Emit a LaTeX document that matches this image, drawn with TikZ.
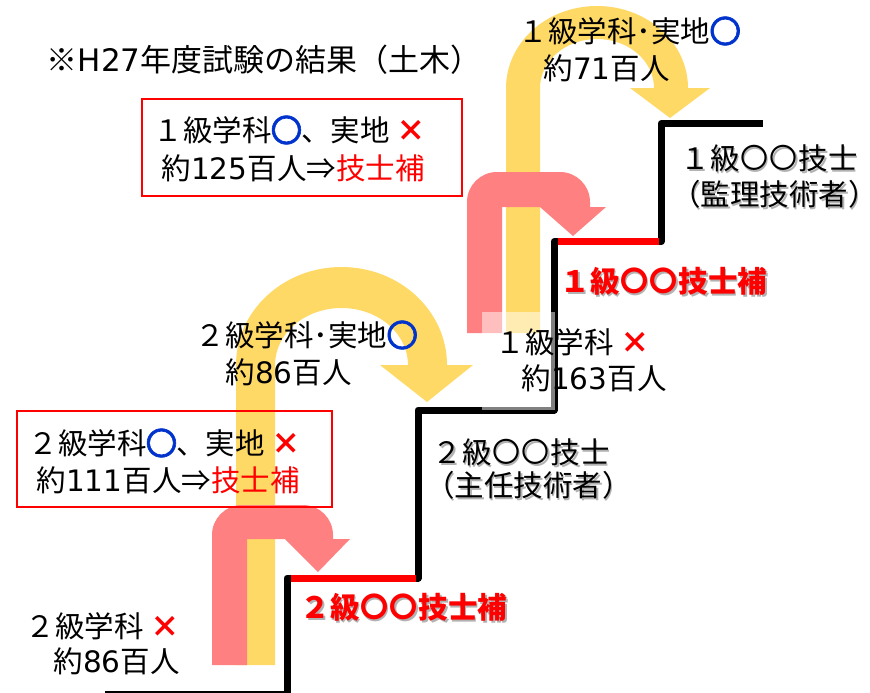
\documentclass[tikz,border=0pt]{standalone}
\usepackage{fontspec}
\usepackage{graphicx}
\setmainfont{Noto Sans CJK JP}
\newfontfamily\ringfont[FakeBold=2]{Noto Sans CJK JP}
\newfontfamily\dgfont{DejaVu Sans}
\definecolor{ylw}{RGB}{255,217,102}
\definecolor{pnk}{RGB}{255,128,128}
\definecolor{rd}{RGB}{255,0,0}
\definecolor{bl}{RGB}{0,51,204}
\newcommand\ring{\makebox[1em]{\raisebox{0.015em}{\scalebox{0.95}{〇}}}}
\newcommand\bring{{\ringfont\color{bl}\makebox[1em]{\raisebox{-0.035em}{\scalebox{1.08}{〇}}}}}
\newcommand\redx{{\bfseries\color{rd}×}}
\newcommand\dg[1]{{\dgfont #1}}
\begin{document}
\begin{tikzpicture}[x=1pt,y=1pt,yscale=-1,
  lbl/.style={inner sep=0pt,anchor=west,font=\fontsize{29.5}{34}\selectfont},
  ttl/.style={lbl,font=\fontsize{31}{36}\selectfont},
  shd/.style={lbl,text=black!30},
  redshd/.style={shd,font=\fontsize{29.5}{34}\selectfont\bfseries},
  redlbl/.style={lbl,text=rd,font=\fontsize{29.5}{34}\selectfont\bfseries},
  stair/.style={draw=black,line width=7pt,line join=round},
  redstep/.style={draw=rd,line width=7pt},
  redbox/.style={draw=rd,line width=1.5pt},
  ylwarrow/.style={fill=ylw},
  pnkarrow/.style={fill=pnk}]
\useasboundingbox (0,0) rectangle (870,693);
% yellow U-turn arrows
\fill[ylwarrow] (506,333) -- (506,88) arc[start angle=180,end angle=360,x radius=91,y radius=82]
  -- (710,88) -- (670,118) -- (630,88) -- (654,88)
  arc[start angle=0,end angle=-180,x radius=57,y radius=49] -- (540,333) -- cycle;
\fill[ylwarrow] (236,665) -- (236,365) arc[start angle=180,end angle=360,x radius=105.5,y radius=98]
  -- (473,365) -- (427,402) -- (380,365) -- (408,365)
  arc[start angle=0,end angle=-180,x radius=66.5,y radius=57] -- (275,665) -- cycle;
% pink U-turn arrows
\fill[pnkarrow] (212,665) -- (212,535) arc[start angle=180,end angle=270,radius=30]
  -- (303,505) arc[start angle=270,end angle=360,radius=30]
  -- (333,539) -- (350,539) -- (318,572) -- (285,539) -- (247,539) -- (247,665) -- cycle;
\fill[pnkarrow] (467,333) -- (467,202) arc[start angle=180,end angle=270,radius=30]
  -- (560,172) arc[start angle=270,end angle=360,radius=30]
  -- (590,207) -- (606,207) -- (573,236) -- (540,207) -- (502,207) -- (502,333) -- cycle;
% stairs
\coordinate (s0) at (105,694);
\coordinate (s1) at (287,694);
\coordinate (s2) at (287,578);
\coordinate (s3) at (418,578);
\coordinate (s4) at (418,410);
\coordinate (s5) at (554,410);
\coordinate (s6) at (554,241.5);
\coordinate (s7) at (661,241.5);
\coordinate (s8) at (661,123.5);
\coordinate (s9) at (763,123.5);
\draw[stair] (s0) -- (s1) -- (s2) -- (s3) -- (s4) -- (s5) -- (s6) -- (s7) -- (s8) -- (s9);
\draw[redstep] (290.5,578) -- (416,578);
\draw[redstep] (557.5,241.5) -- (659,241.5);
% translucent overlay
\fill[white,opacity=0.5] (482,312) rectangle (555,410);
% boxes
\draw[redbox] (142,99) rectangle (462,196);
\draw[redbox] (17,411) rectangle (332,507);
% texts
\node[ttl] (title) at (46.5,60) {※\dg{H27}年度試験の結果（土木）};
\node[lbl] (b1a) at (153.5,130) {１級学科\bring、実地 \redx};
\node[lbl] (b1b) at (161.5,168) {約\dg{125}百人⇒\textcolor{rd}{技士補}};
\node[lbl] (t1a) at (518.5,31) {１級学科･実地\bring};
\node[lbl] (t1b) at (543.5,68) {約\dg{71}百人};
\node[shd] (k1as) at (682,160) {１級\ring\ring 技士};
\node[lbl] (k1a) at (680.5,158) {１級\ring\ring 技士};
\node[shd] (k1bs) at (672.5,196) {（監理技術者）};
\node[lbl] (k1b) at (671,194) {（監理技術者）};
\node[redshd] (h1s) at (562,283) {１級\ring\ring 技士補};
\node[redlbl] (h1) at (560.5,281) {１級\ring\ring 技士補};
\node[lbl] (t2a) at (195.5,335) {２級学科･実地\bring};
\node[lbl] (t2b) at (225.5,372) {約\dg{86}百人};
\node[lbl] (f1a) at (495.5,342) {１級学科 \redx};
\node[lbl] (f1b) at (521.5,378) {約\dg{163}百人};
\node[shd] (k2as) at (434,454) {２級\ring\ring 技士};
\node[lbl] (k2a) at (432.5,452) {２級\ring\ring 技士};
\node[shd] (k2bs) at (426.5,487) {（主任技術者）};
\node[lbl] (k2b) at (425,485) {（主任技術者）};
\node[lbl] (b2a) at (28.5,443) {２級学科\bring、実地 \redx};
\node[lbl] (b2b) at (36.5,480) {約\dg{111}百人⇒\textcolor{rd}{技士補}};
\node[redshd] (h2s) at (302,609) {２級\ring\ring 技士補};
\node[redlbl] (h2) at (300.5,607) {２級\ring\ring 技士補};
\node[lbl] (f2a) at (25.5,626) {２級学科 \redx};
\node[lbl] (f2b) at (53.5,661) {約\dg{86}百人};
\end{tikzpicture}
\end{document}
